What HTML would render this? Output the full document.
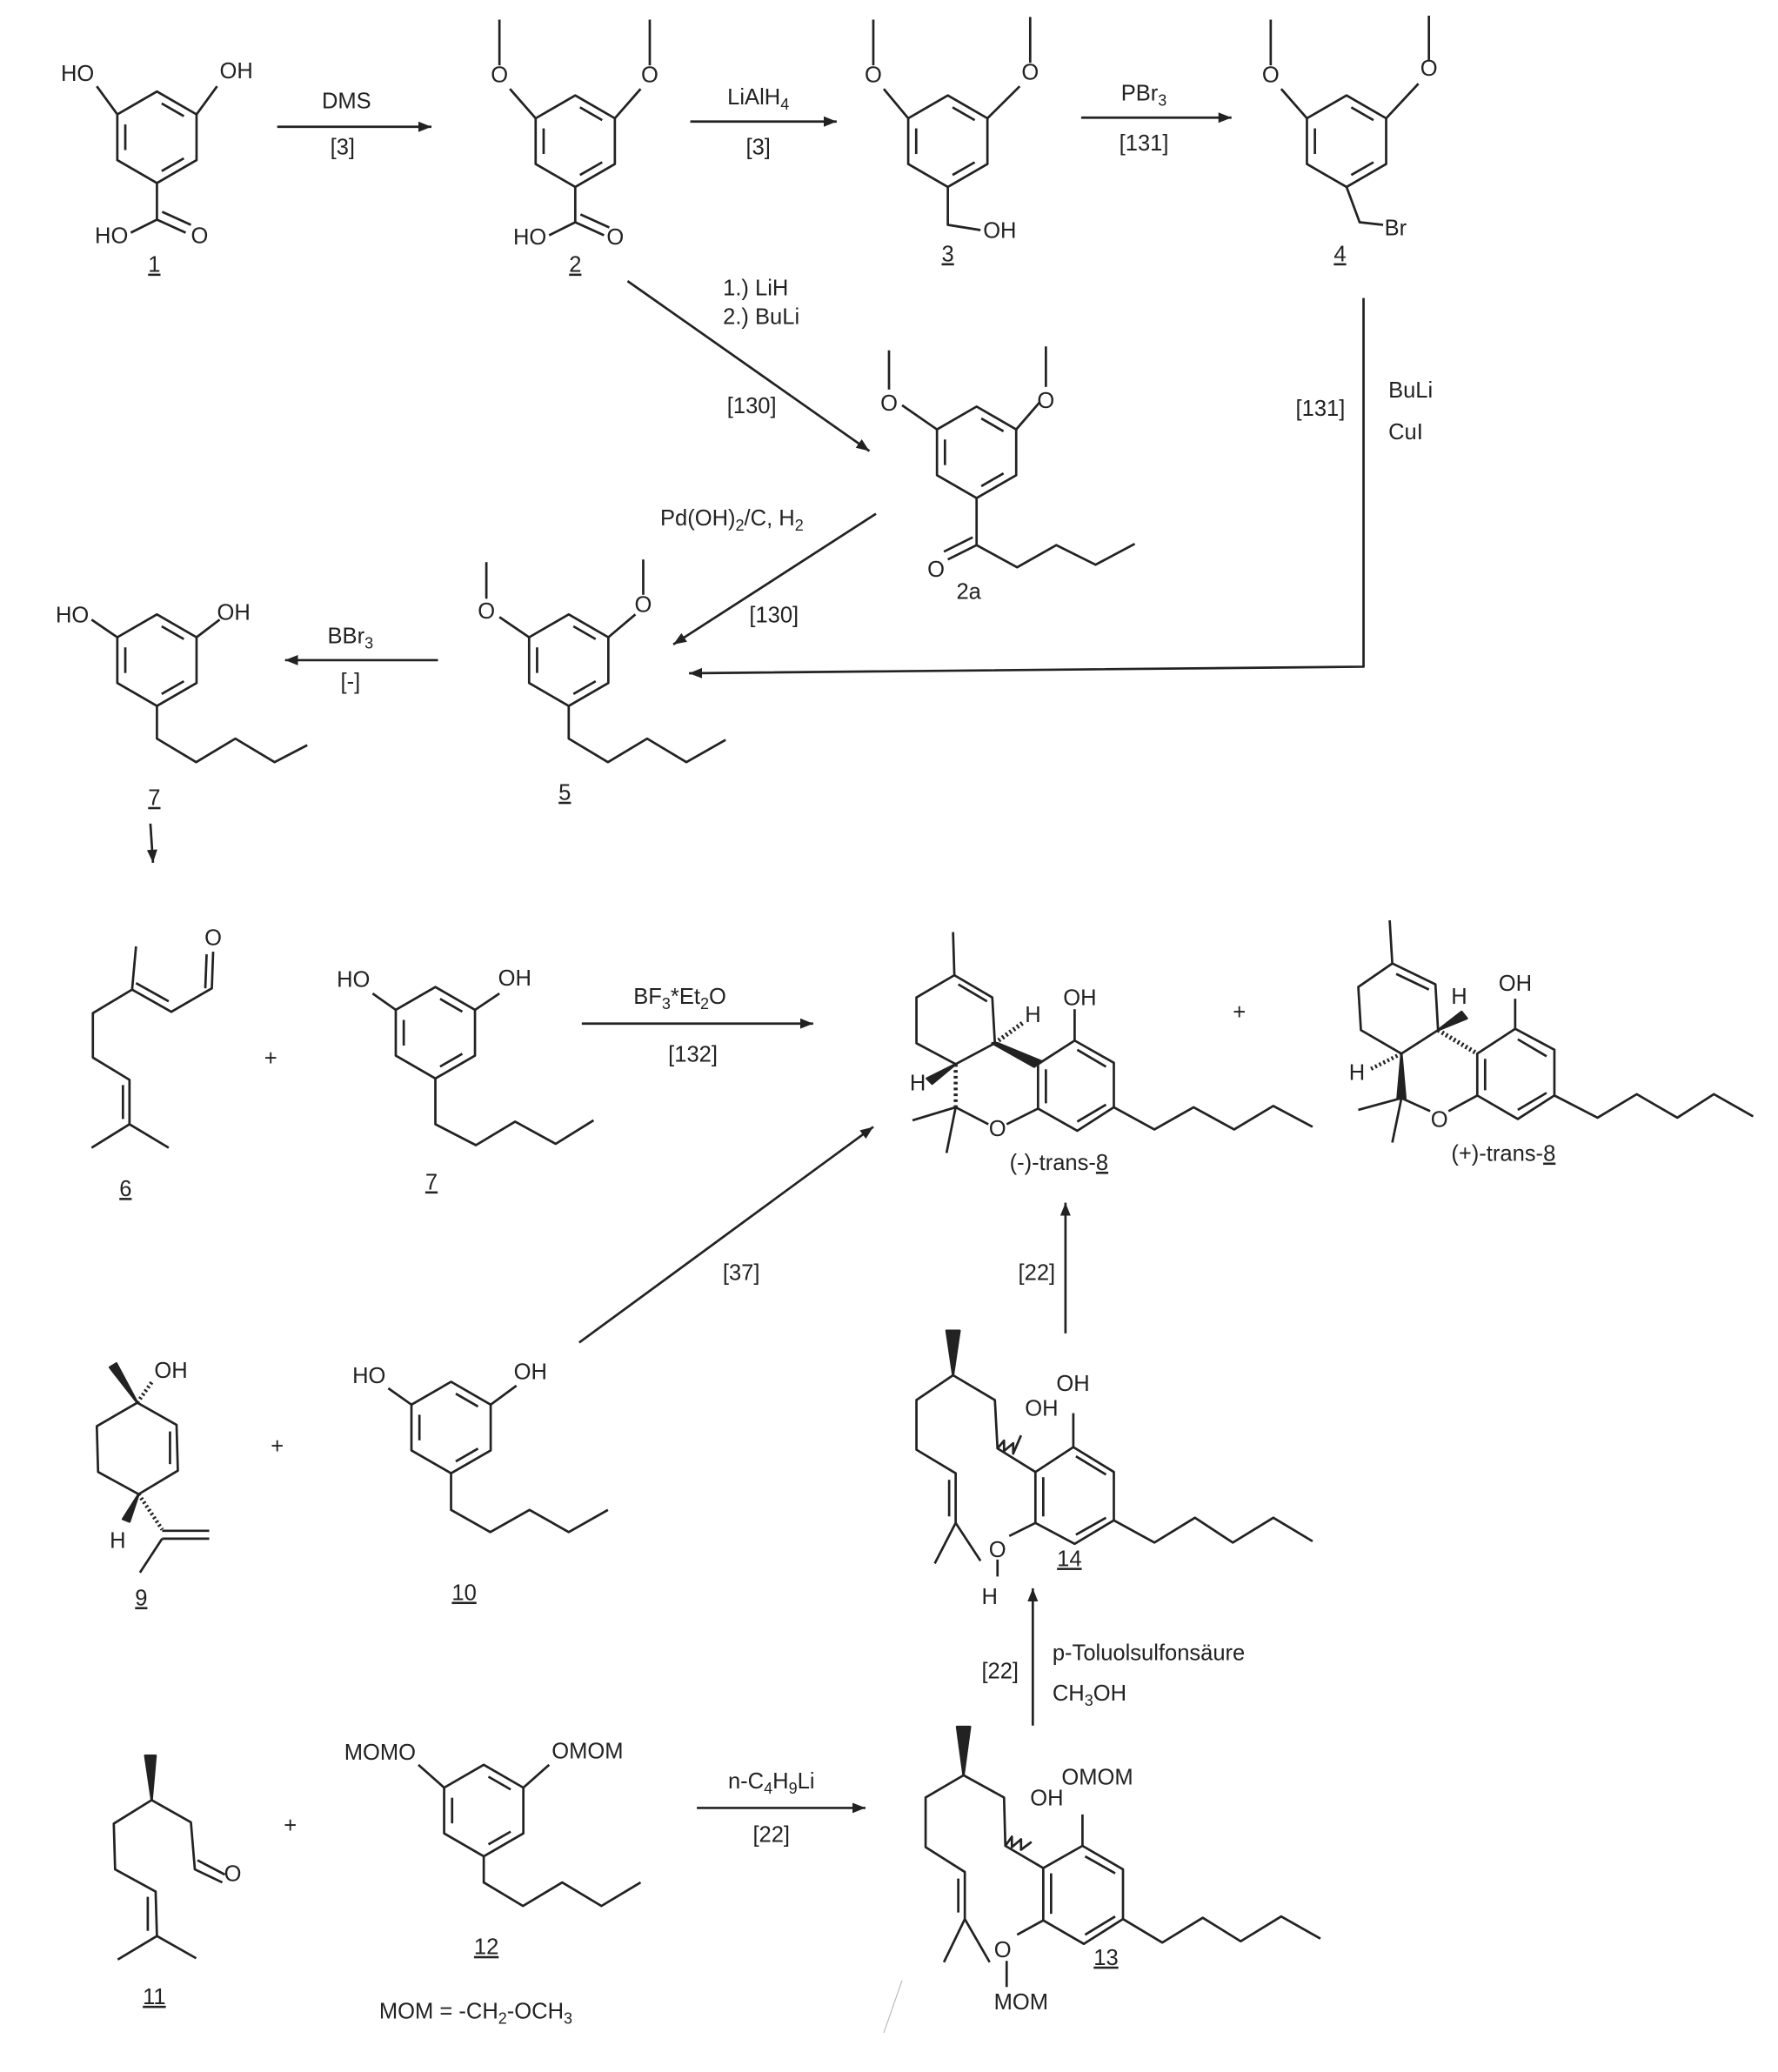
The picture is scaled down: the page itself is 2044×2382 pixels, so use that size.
<!DOCTYPE html>
<html><head><meta charset="utf-8"><style>
html,body{margin:0;padding:0;background:#fff}
svg{display:block}
text{font-family:"Liberation Sans",Arial,sans-serif;font-size:17px;fill:#222}
.u{text-decoration:underline}
</style></head><body>
<svg width="2044" height="2382" viewBox="0 0 1360 1585" xmlns="http://www.w3.org/2000/svg">
<defs>
<g id="bz" fill="none" stroke="#222" stroke-width="1.8">
<polygon points="0,-35 30.3,-17.5 30.3,17.5 0,35 -30.3,17.5 -30.3,-17.5"/>
<line x1="3.6" y1="-25.9" x2="20.6" y2="-16.1"/>
<line x1="20.6" y1="16.1" x2="3.6" y2="25.9"/>
<line x1="-24.2" y1="9.8" x2="-24.2" y2="-9.8"/>
</g>
<marker id="ar" viewBox="0 0 10 10" refX="10" refY="5" markerWidth="10" markerHeight="10" markerUnits="userSpaceOnUse" orient="auto"><path d="M0,1 L10,5 L0,9 z" fill="#222"/></marker>
</defs>
<g fill="none" stroke="#222" stroke-width="1.8" stroke-linejoin="round">
<!-- 1 -->
<use href="#bz" x="120" y="105"/>
<line x1="89.7" y1="87.5" x2="74" y2="66"/><line x1="150.3" y1="87.5" x2="166" y2="66"/>
<polyline points="120,140 120,168 100,178"/><line x1="120" y1="168" x2="142" y2="178"/><line x1="124" y1="162" x2="146" y2="172"/>
<!-- 2 -->
<use href="#bz" x="440" y="108"/>
<line x1="409.7" y1="90.5" x2="390" y2="68"/><line x1="382" y1="50" x2="382" y2="15"/>
<line x1="470.3" y1="90.5" x2="490" y2="68"/><line x1="497" y1="50" x2="497" y2="15"/>
<polyline points="440,143 440,170 420,180"/><line x1="440" y1="170" x2="462" y2="180"/><line x1="444" y1="164" x2="466" y2="174"/>
<!-- 3 -->
<use href="#bz" x="725" y="108"/>
<line x1="694.7" y1="90.5" x2="676" y2="68"/><line x1="668" y1="50" x2="668" y2="15"/>
<line x1="755.3" y1="90.5" x2="780" y2="66"/><line x1="788" y1="48" x2="788" y2="13"/>
<polyline points="725,143 725,172 750,176"/>
<!-- 4 -->
<use href="#bz" x="1030" y="108"/>
<line x1="999.7" y1="90.5" x2="980" y2="68"/><line x1="972" y1="50" x2="972" y2="15"/>
<line x1="1060.3" y1="90.5" x2="1085" y2="64"/><line x1="1093" y1="46" x2="1093" y2="12"/>
<polyline points="1030,143 1040,170 1058,172"/>
<!-- arrows top -->
<line x1="212" y1="97" x2="330" y2="97" marker-end="url(#ar)"/>
<line x1="528" y1="93" x2="640" y2="93" marker-end="url(#ar)"/>
<line x1="827" y1="90" x2="942" y2="90" marker-end="url(#ar)"/>
<line x1="480" y1="215" x2="665" y2="345" marker-end="url(#ar)"/>
<polyline points="1043,228 1043,510 527,515" marker-end="url(#ar)"/>
<line x1="670" y1="393" x2="515" y2="493" marker-end="url(#ar)"/>
<line x1="335" y1="505" x2="218" y2="505" marker-end="url(#ar)"/>
<line x1="115" y1="630" x2="117" y2="660" marker-end="url(#ar)"/>
<!-- 2a -->
<use href="#bz" x="747" y="346"/>
<line x1="716.7" y1="328.5" x2="690" y2="310"/><line x1="680" y1="298" x2="680" y2="268"/>
<line x1="777.3" y1="328.5" x2="795" y2="308"/><line x1="800" y1="296" x2="800" y2="265"/>
<polyline points="747,381 747,417 778,434 808,417 838,432 868,416"/>
<line x1="747" y1="417" x2="725" y2="428"/><line x1="744" y1="411" x2="722" y2="422"/>
<!-- 5 -->
<use href="#bz" x="435" y="505"/>
<line x1="404.7" y1="487.5" x2="382" y2="472"/><line x1="372" y1="458" x2="372" y2="430"/>
<line x1="465.3" y1="487.5" x2="486" y2="470"/><line x1="492" y1="455" x2="492" y2="428"/>
<polyline points="435,540 435,565 465,583 495,565 525,583 555,566"/>
<!-- 7 top -->
<use href="#bz" x="120" y="505"/>
<line x1="89.7" y1="487.5" x2="70" y2="474"/><line x1="150.3" y1="487.5" x2="168" y2="474"/>
<polyline points="120,540 120,565 150,583 180,565 210,583 235,570"/>
<!-- 6 citral -->
<polyline points="104,724 101,757 131,774 162,756 163,728"/>
<line x1="104" y1="752" x2="129" y2="766"/><line x1="157" y1="756" x2="158" y2="730"/>
<polyline points="101,757 71,775 71,809 99,826 99,860 70,878"/>
<line x1="99" y1="860" x2="129" y2="878"/><line x1="94" y1="830" x2="94" y2="856"/>
<!-- 7 mid -->
<use href="#bz" x="333" y="790"/>
<line x1="302.7" y1="772.5" x2="285" y2="760"/><line x1="363.3" y1="772.5" x2="382" y2="760"/>
<polyline points="333,825 333,860 364,876 394,858 425,875 454,857"/>
<line x1="445" y1="783" x2="622" y2="783" marker-end="url(#ar)"/>
<!-- (-)-8 -->
<line x1="729" y1="713" x2="730" y2="746"/>
<polygon points="730,746 759,763 761,798 731,814 701,798 701,763"/>
<line x1="733" y1="753" x2="755" y2="766"/>
<polygon points="759,798 763,798 797,812 791,816" fill="#222"/>
<line x1="761" y1="798" x2="783" y2="782" stroke-width="3.5" stroke-dasharray="1.5,2"/>
<polygon points="794,814 822,796 852,813 852,847 824,865 794,848"/>
<line x1="824" y1="803" x2="846" y2="816"/><line x1="846" y1="845" x2="824" y2="858"/><line x1="800" y1="818" x2="800" y2="844"/>
<line x1="822" y1="796" x2="822" y2="772"/>
<line x1="794" y1="848" x2="770" y2="860"/><line x1="756" y1="860" x2="731" y2="847"/>
<line x1="731" y1="814" x2="731" y2="847" stroke-width="3" stroke-dasharray="2,2.5"/>
<polygon points="731,814 709,825 713,829" fill="#222"/>
<line x1="731" y1="847" x2="698" y2="857"/><line x1="731" y1="847" x2="724" y2="882"/>
<polyline points="852,847 883,864 913,847 944,864 974,846 1004,862"/>
<!-- (+)-8 -->
<line x1="1063" y1="704" x2="1065" y2="737"/>
<polygon points="1065,737 1098,753 1100,788 1072,806 1041,788 1039,755"/>
<line x1="1068" y1="745" x2="1093" y2="757"/>
<polygon points="1100,788 1118,774 1122,779" fill="#222"/>
<line x1="1100" y1="788" x2="1130" y2="806" stroke-width="3.5" stroke-dasharray="1.5,2"/>
<polygon points="1130,806 1159,787 1189,803 1189,838 1161,856 1130,838"/>
<line x1="1161" y1="795" x2="1183" y2="808"/><line x1="1183" y1="836" x2="1161" y2="849"/><line x1="1136" y1="810" x2="1136" y2="834"/>
<line x1="1159" y1="787" x2="1159" y2="764"/>
<line x1="1130" y1="838" x2="1108" y2="850"/><line x1="1094" y1="850" x2="1072" y2="840"/>
<polygon points="1072,806 1069,840 1075,840" fill="#222"/>
<line x1="1072" y1="806" x2="1048" y2="818" stroke-width="3" stroke-dasharray="1.5,2"/>
<line x1="1072" y1="840" x2="1039" y2="849"/><line x1="1072" y1="840" x2="1065" y2="874"/>
<polyline points="1189,838 1222,855 1252,837 1283,855 1311,837 1341,854"/>
<!-- 9 -->
<polygon points="105,1073 135,1090 136,1125 106,1143 75,1126 74,1091"/>
<line x1="130" y1="1095" x2="130" y2="1120"/>
<polygon points="105,1073 84,1046 89,1043" fill="#222"/>
<line x1="105" y1="1073" x2="117" y2="1056" stroke-width="3" stroke-dasharray="1.5,2"/>
<polygon points="106,1143 94,1162 99,1164" fill="#222"/>
<line x1="106" y1="1143" x2="124" y2="1170" stroke-width="3" stroke-dasharray="1.5,2"/>
<line x1="124" y1="1171" x2="160" y2="1171"/><line x1="124" y1="1177" x2="160" y2="1177"/>
<line x1="124" y1="1177" x2="107" y2="1203"/>
<!-- 10 -->
<use href="#bz" x="345" y="1092"/>
<line x1="314.7" y1="1074.5" x2="297" y2="1062"/><line x1="375.3" y1="1074.5" x2="395" y2="1060"/>
<polyline points="345,1127 345,1155 375,1172 405,1155 435,1172 465,1155"/>
<line x1="443" y1="1027" x2="668" y2="862" marker-end="url(#ar)"/>
<line x1="815" y1="1020" x2="815" y2="920" marker-end="url(#ar)"/>
<!-- 14 -->
<polygon points="729,1052 724,1018 734,1018" fill="#222"/>
<polyline points="729,1052 761,1071 763,1108 792,1126"/>
<polyline points="729,1052 701,1071 701,1109 731,1127 731,1165 715,1196"/>
<line x1="731" y1="1165" x2="750" y2="1194"/><line x1="726" y1="1132" x2="726" y2="1160"/>
<polyline points="763,1108 768,1102 768,1110 775,1104 775,1112 781,1098"/>
<polygon points="792,1126 821,1107 852,1126 852,1163 822,1181 792,1165"/>
<line x1="823" y1="1114" x2="846" y2="1128"/><line x1="846" y1="1161" x2="823" y2="1174"/><line x1="798" y1="1130" x2="798" y2="1160"/>
<line x1="821" y1="1107" x2="821" y2="1081"/>
<line x1="792" y1="1165" x2="772" y2="1175"/>
<line x1="763" y1="1193" x2="763" y2="1206"/>
<polyline points="852,1163 883,1180 914,1161 943,1180 974,1161 1004,1179"/>
<line x1="790" y1="1320" x2="790" y2="1215" marker-end="url(#ar)"/>
<!-- 13 -->
<polygon points="737,1358 732,1321 742,1321" fill="#222"/>
<polyline points="737,1358 768,1375 769,1412 798,1429"/>
<polyline points="737,1358 708,1375 708,1413 738,1432 738,1468 722,1501"/>
<line x1="738" y1="1468" x2="757" y2="1501"/><line x1="733" y1="1437" x2="733" y2="1463"/>
<polyline points="769,1412 774,1405 774,1413 781,1407 781,1415 789,1409"/>
<polygon points="798,1429 828,1412 859,1430 859,1468 829,1487 798,1469"/>
<line x1="830" y1="1420" x2="853" y2="1433"/><line x1="853" y1="1466" x2="830" y2="1480"/><line x1="804" y1="1433" x2="804" y2="1464"/>
<line x1="828" y1="1412" x2="828" y2="1388"/>
<line x1="798" y1="1469" x2="778" y2="1480"/>
<line x1="770" y1="1500" x2="770" y2="1520"/>
<polyline points="859,1468 889,1486 920,1467 949,1485 980,1466 1010,1483"/>
<!-- 11 -->
<polygon points="116,1377 111,1343 119,1343" fill="#222"/>
<polyline points="116,1377 146,1394 149,1430 170,1440"/>
<line x1="151" y1="1423" x2="172" y2="1434"/>
<polyline points="116,1377 87,1395 88,1430 119,1447 120,1481 90,1499"/>
<line x1="120" y1="1481" x2="150" y2="1498"/><line x1="113" y1="1451" x2="113" y2="1477"/>
<!-- 12 -->
<use href="#bz" x="370" y="1385"/>
<line x1="339.7" y1="1367.5" x2="320" y2="1350"/><line x1="400.3" y1="1367.5" x2="420" y2="1350"/>
<polyline points="370,1420 370,1440 400,1458 430,1440 460,1458 490,1440"/>
<line x1="533" y1="1383" x2="662" y2="1383" marker-end="url(#ar)"/>
<line x1="690" y1="1515" x2="676" y2="1555" stroke="#bbb" stroke-width="0.8"/>
</g>
<!-- texts -->
<text x="72" y="62" text-anchor="end">HO</text><text x="168" y="60">OH</text>
<text x="98" y="186" text-anchor="end">HO</text><text x="146" y="186">O</text>
<text x="118" y="208" class="u" text-anchor="middle">1</text>
<text x="382" y="63" text-anchor="middle">O</text><text x="497" y="63" text-anchor="middle">O</text>
<text x="418" y="187" text-anchor="end">HO</text><text x="464" y="187">O</text>
<text x="440" y="208" class="u" text-anchor="middle">2</text>
<text x="668" y="63" text-anchor="middle">O</text><text x="788" y="61" text-anchor="middle">O</text>
<text x="752" y="182">OH</text><text x="725" y="200" class="u" text-anchor="middle">3</text>
<text x="972" y="63" text-anchor="middle">O</text><text x="1093" y="58" text-anchor="middle">O</text>
<text x="1059" y="180">Br</text><text x="1025" y="200" class="u" text-anchor="middle">4</text>
<text x="265" y="83" text-anchor="middle">DMS</text><text x="262" y="118" text-anchor="middle">[3]</text>
<text x="580" y="80" text-anchor="middle">LiAlH<tspan font-size="12" dy="4">4</tspan></text><text x="580" y="118" text-anchor="middle">[3]</text>
<text x="875" y="77" text-anchor="middle">PBr<tspan font-size="12" dy="4">3</tspan></text><text x="875" y="115" text-anchor="middle">[131]</text>
<text x="553" y="226">1.) LiH</text><text x="553" y="248">2.) BuLi</text><text x="575" y="316" text-anchor="middle">[130]</text>
<text x="680" y="314" text-anchor="middle">O</text><text x="800" y="312" text-anchor="middle">O</text>
<text x="716" y="441" text-anchor="middle">O</text><text x="741" y="458" text-anchor="middle">2a</text>
<text x="1010" y="318" text-anchor="middle">[131]</text><text x="1062" y="304">BuLi</text><text x="1062" y="336">CuI</text>
<text x="505" y="402">Pd(OH)<tspan font-size="12" dy="4">2</tspan><tspan dy="-4">/C, H</tspan><tspan font-size="12" dy="4">2</tspan></text>
<text x="592" y="476" text-anchor="middle">[130]</text>
<text x="372" y="473" text-anchor="middle">O</text><text x="492" y="468" text-anchor="middle">O</text>
<text x="432" y="612" class="u" text-anchor="middle">5</text>
<text x="268" y="492" text-anchor="middle">BBr<tspan font-size="12" dy="4">3</tspan></text><text x="268" y="527" text-anchor="middle">[-]</text>
<text x="68" y="476" text-anchor="end">HO</text><text x="166" y="474">OH</text>
<text x="118" y="616" class="u" text-anchor="middle">7</text>
<text x="163" y="723" text-anchor="middle">O</text><text x="96" y="915" class="u" text-anchor="middle">6</text>
<text x="207" y="815" text-anchor="middle" font-size="21">+</text>
<text x="283" y="755" text-anchor="end">HO</text><text x="381" y="754">OH</text>
<text x="330" y="910" class="u" text-anchor="middle">7</text>
<text x="520" y="768" text-anchor="middle">BF<tspan font-size="12" dy="4">3</tspan><tspan dy="-4">*Et</tspan><tspan font-size="12" dy="4">2</tspan><tspan dy="-4">O</tspan></text>
<text x="530" y="812" text-anchor="middle">[132]</text>
<text x="826" y="769" text-anchor="middle">OH</text><text x="784" y="782">H</text>
<text x="702" y="834" text-anchor="middle">H</text><text x="763" y="869" text-anchor="middle">O</text>
<text x="810" y="895" text-anchor="middle">(-)-trans-<tspan text-decoration="underline">8</tspan></text>
<text x="948" y="780" text-anchor="middle" font-size="21">+</text>
<text x="1159" y="758" text-anchor="middle">OH</text><text x="1110" y="768">H</text>
<text x="1038" y="826" text-anchor="middle">H</text><text x="1101" y="862" text-anchor="middle">O</text>
<text x="1150" y="888" text-anchor="middle">(+)-trans-<tspan text-decoration="underline">8</tspan></text>
<text x="118" y="1054">OH</text><text x="90" y="1184" text-anchor="middle">H</text>
<text x="108" y="1228" class="u" text-anchor="middle">9</text>
<text x="212" y="1112" text-anchor="middle" font-size="21">+</text>
<text x="295" y="1058" text-anchor="end">HO</text><text x="393" y="1055">OH</text>
<text x="355" y="1224" class="u" text-anchor="middle">10</text>
<text x="567" y="979" text-anchor="middle">[37]</text><text x="793" y="979" text-anchor="middle">[22]</text>
<text x="784" y="1083">OH</text><text x="808" y="1064">OH</text>
<text x="763" y="1191" text-anchor="middle">O</text><text x="757" y="1227" text-anchor="middle">H</text>
<text x="818" y="1198" class="u" text-anchor="middle">14</text>
<text x="765" y="1284" text-anchor="middle">[22]</text>
<text x="805" y="1270">p-Toluolsulfonsäure</text>
<text x="805" y="1301">CH<tspan font-size="12" dy="4">3</tspan><tspan dy="-4">OH</tspan></text>
<text x="788" y="1381">OH</text><text x="812" y="1365">OMOM</text>
<text x="767" y="1497" text-anchor="middle">O</text><text x="781" y="1537" text-anchor="middle">MOM</text>
<text x="846" y="1503" class="u" text-anchor="middle">13</text>
<text x="178" y="1439" text-anchor="middle">O</text><text x="118" y="1533" class="u" text-anchor="middle">11</text>
<text x="222" y="1402" text-anchor="middle" font-size="21">+</text>
<text x="318" y="1346" text-anchor="end">MOMO</text><text x="422" y="1345">OMOM</text>
<text x="372" y="1495" class="u" text-anchor="middle">12</text>
<text x="290" y="1544">MOM = -CH<tspan font-size="12" dy="4">2</tspan><tspan dy="-4">-OCH</tspan><tspan font-size="12" dy="4">3</tspan></text>
<text x="590" y="1368" text-anchor="middle">n-C<tspan font-size="12" dy="4">4</tspan><tspan dy="-4">H</tspan><tspan font-size="12" dy="4">9</tspan><tspan dy="-4">Li</tspan></text>
<text x="590" y="1409" text-anchor="middle">[22]</text>
</svg>
</body></html>
